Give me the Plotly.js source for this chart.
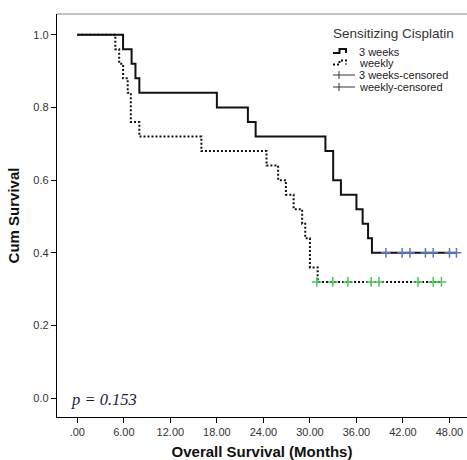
<!DOCTYPE html>
<html>
<head>
<meta charset="utf-8">
<script src="https://cdn.plot.ly/plotly-3.0.1.min.js"></script>
<style>html,body{margin:0;padding:0;background:#fff;}#chart{width:467px;height:460px;}</style>
</head>
<body>
<div id="chart"></div>
<script>
// ---- data ----
const threeWeeksTimes = [0, 5.9, 7.0, 7.5, 8.0, 18.0, 22.0, 23.0, 32.0, 33.0, 34.0, 36.0, 36.8, 37.5, 38.0, 48.9];
const threeWeeksSurv  = [1.00, 0.96, 0.92, 0.88, 0.84, 0.80, 0.76, 0.72, 0.68, 0.60, 0.56, 0.52, 0.48, 0.44, 0.40, 0.40];
const threeWeeksCensTimes = [39.8, 41.9, 42.9, 44.9, 45.9, 48.0, 48.9];
const threeWeeksCensSurv  = [0.40, 0.40, 0.40, 0.40, 0.40, 0.40, 0.40];

const weeklyTimes = [0, 4.9, 5.4, 5.9, 6.5, 6.9, 8.0, 16.0, 24.4, 25.9, 26.9, 27.9, 29.0, 29.4, 30.0, 31.0, 47.0];
const weeklySurv  = [1.00, 0.96, 0.92, 0.88, 0.84, 0.76, 0.72, 0.68, 0.64, 0.60, 0.56, 0.52, 0.48, 0.44, 0.36, 0.32, 0.32];
const weeklyCensTimes = [30.9, 32.95, 34.9, 37.9, 38.9, 43.95, 45.9, 46.96];
const weeklyCensSurv  = [0.32, 0.32, 0.32, 0.32, 0.32, 0.32, 0.32, 0.32];

const xTickVals = [0, 6, 12, 18, 24, 30, 36, 42, 48];
const xTickText = [".00", "6.00", "12.00", "18.00", "24.00", "30.00", "36.00", "42.00", "48.00"];
const yTickVals = [0, 0.2, 0.4, 0.6, 0.8, 1.0];
const yTickText = ["0.0", "0.2", "0.4", "0.6", "0.8", "1.0"];
const legendTitle = "Sensitizing Cisplatin";
const legendLabels = ["3 weeks", "weekly", "3 weeks-censored", "weekly-censored"];
const pText = "p = 0.153";

// ---- layout geometry (pixels) ----
const W = 467, H = 460;
const M = {l: 57, r: 0, t: 14, b: 43};
const PW = W - M.l - M.r, PH = H - M.t - M.b;
const px = x => (x - M.l) / PW;
const py = y => (H - M.b - y) / PH;

const traces = [
  {x: threeWeeksTimes, y: threeWeeksSurv, type: 'scatter', mode: 'lines',
   line: {shape: 'hv', color: '#111', width: 2}, hoverinfo: 'skip'},
  {x: weeklyTimes, y: weeklySurv, type: 'scatter', mode: 'lines',
   line: {shape: 'hv', color: '#111', width: 2, dash: '2px,2px'}, hoverinfo: 'skip'},
  {x: threeWeeksCensTimes, y: threeWeeksCensSurv, type: 'scatter', mode: 'markers',
   marker: {symbol: 'cross-thin', size: 7, line: {color: '#5b78c8', width: 1.5}}, hoverinfo: 'skip'},
  {x: weeklyCensTimes, y: weeklyCensSurv, type: 'scatter', mode: 'markers',
   marker: {symbol: 'cross-thin', size: 7, line: {color: '#4cc85a', width: 1.5}}, hoverinfo: 'skip'}
];

// manual legend
const lgTextX = 357, lgRows = [51.5, 63, 75, 87];
const shapes = [
  // top frame line
  {type: 'line', xref: 'paper', yref: 'paper', x0: 0, x1: 1, y0: 1, y1: 1, line: {color: '#888', width: 1.2}},
  // 3 weeks symbol
  {type: 'path', xref: 'paper', yref: 'paper',
   path: `M${px(333)},${py(53)} L${px(339.5)},${py(53)} L${px(339.5)},${py(49)} L${px(346)},${py(49)} L${px(346)},${py(53)}`,
   line: {color: '#111', width: 2}},
  // weekly symbol
  {type: 'path', xref: 'paper', yref: 'paper',
   path: `M${px(333)},${py(64.5)} L${px(339.5)},${py(64.5)} L${px(339.5)},${py(60.5)} L${px(346)},${py(60.5)} L${px(346)},${py(64.5)}`,
   line: {color: '#111', width: 2, dash: '2px,2px'}},
  // 3 weeks-censored symbol
  {type: 'line', xref: 'paper', yref: 'paper', x0: px(333), x1: px(355), y0: py(75), y1: py(75), line: {color: '#333', width: 1}},
  {type: 'line', xref: 'paper', yref: 'paper', x0: px(339), x1: px(339), y0: py(71), y1: py(79), line: {color: '#333', width: 1}},
  // weekly-censored symbol
  {type: 'line', xref: 'paper', yref: 'paper', x0: px(333), x1: px(355), y0: py(87), y1: py(87), line: {color: '#333', width: 1}},
  {type: 'line', xref: 'paper', yref: 'paper', x0: px(339), x1: px(339), y0: py(83), y1: py(91), line: {color: '#333', width: 1}}
];

const lgFont = {family: 'Liberation Sans, Arial, sans-serif', size: 11, color: '#222'};
const annotations = [
  {xref: 'paper', yref: 'paper', x: px(331), y: py(33), xanchor: 'left', yanchor: 'middle',
   text: legendTitle, showarrow: false, font: {family: 'Liberation Sans, Arial, sans-serif', size: 13.5, color: '#333'}},
  {xref: 'paper', yref: 'paper', x: px(69), y: py(399), xanchor: 'left', yanchor: 'middle',
   text: '<i>' + pText + '</i>', showarrow: false, font: {family: 'Liberation Serif, Times New Roman, serif', size: 16.5, color: '#1c1c3a'}}
];
legendLabels.forEach((lab, i) => {
  annotations.push({xref: 'paper', yref: 'paper', x: px(lgTextX), y: py(lgRows[i]), xanchor: 'left', yanchor: 'middle',
    text: lab, showarrow: false, font: lgFont});
});

const layout = {
  width: W, height: H,
  margin: M,
  paper_bgcolor: '#fff', plot_bgcolor: '#fff',
  showlegend: false,
  xaxis: {
    range: [-2.62, 50.26], tickvals: xTickVals, ticktext: xTickText,
    showgrid: false, zeroline: false, showline: true, linecolor: '#000', linewidth: 1.2,
    ticks: 'outside', ticklen: 5, tickcolor: '#000', tickwidth: 1,
    tickfont: {family: 'Liberation Sans, Arial, sans-serif', size: 11, color: '#333'},
    title: {text: '<b>Overall Survival (Months)</b>', standoff: 9,
            font: {family: 'Liberation Sans, Arial, sans-serif', size: 15, color: '#111'}}
  },
  yaxis: {
    range: [-0.0514, 1.0569], tickvals: yTickVals, ticktext: yTickText,
    showgrid: false, zeroline: false, showline: true, linecolor: '#000', linewidth: 1.2,
    ticks: 'outside', ticklen: 5, tickcolor: '#000', tickwidth: 1,
    tickfont: {family: 'Liberation Sans, Arial, sans-serif', size: 11, color: '#333'},
    title: {text: '<b>Cum Survival</b>', standoff: 10,
            font: {family: 'Liberation Sans, Arial, sans-serif', size: 15, color: '#111'}}
  },
  shapes: shapes,
  annotations: annotations
};

Plotly.newPlot('chart', traces, layout, {displayModeBar: false, staticPlot: true});
</script>
</body>
</html>
